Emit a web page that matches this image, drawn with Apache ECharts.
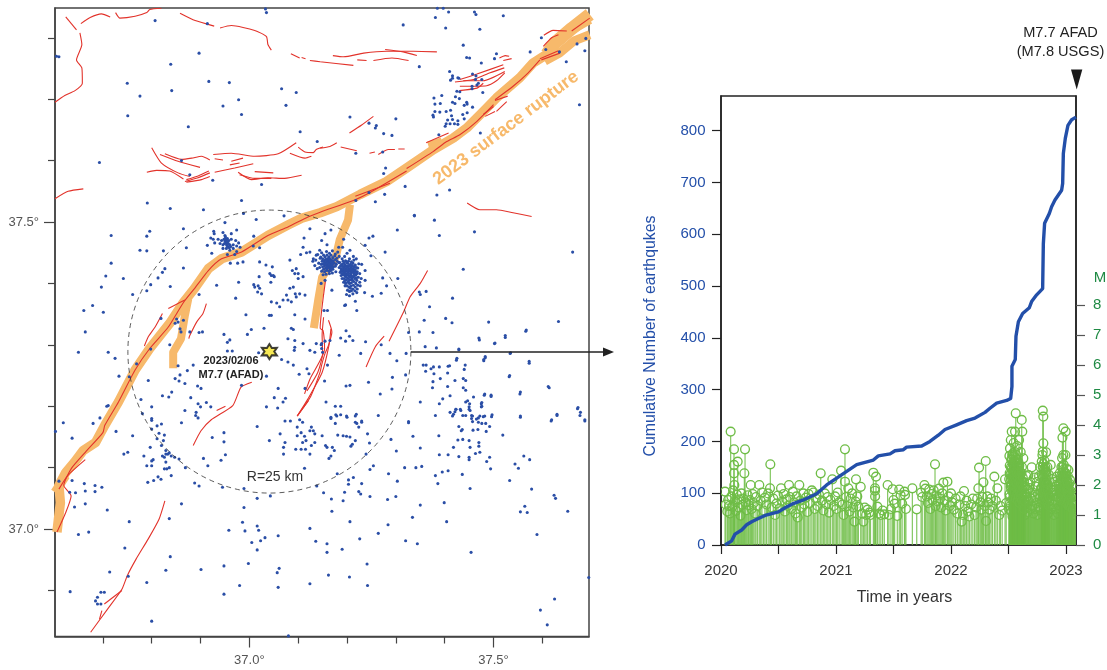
<!DOCTYPE html>
<html><head><meta charset="utf-8">
<style>html,body{margin:0;padding:0;background:#fff}#c{width:1107px;height:670px}</style>
<script src="https://cdn.jsdelivr.net/npm/echarts@6/dist/echarts.min.js"></script>
</head><body><div id="c"></div>
<script>
const epicenter=[37.041,37.289];
const lonTicks=[36.7,36.8,36.9,37.1,37.2,37.3,37.4,37.6];
const latTicks=[36.9,37.1,37.2,37.3,37.4,37.6,37.7,37.8];
const lonLabels=[37.0,37.5];
const latLabels=[37.0,37.5];
const yearTicks=[2020,2020.5,2021,2021.5,2022,2022.5,2023];
const yearLabels=[2020,2021,2022,2023];
const countTicks=[0,100,200,300,400,500,600,700,800];
const magTicks=[0,1,2,3,4,5,6,7,8];

const ruptureMain=[[37.697,37.830],[37.653,37.810],[37.626,37.792],[37.609,37.773],[37.581,37.759],[37.554,37.735],[37.506,37.702],[37.479,37.680],[37.445,37.653],[37.418,37.637],[37.377,37.618],[37.322,37.588],[37.281,37.566],[37.227,37.545],[37.179,37.525],[37.145,37.515],[37.107,37.506],[37.079,37.495],[37.038,37.478],[36.984,37.451],[36.943,37.440],[36.916,37.424],[36.888,37.392],[36.865,37.369],[36.837,37.335],[36.796,37.294],[36.766,37.259],[36.732,37.207],[36.704,37.169],[36.685,37.141],[36.660,37.128],[36.642,37.109],[36.624,37.092],[36.610,37.071],[36.613,37.043],[36.606,36.995]];
const ruptureNorthEast=[[37.697,37.838],[37.660,37.815],[37.626,37.792],[37.609,37.773]];
const ruptureNorthEast2=[[37.697,37.805],[37.665,37.795],[37.635,37.775],[37.605,37.762]];
const ruptureWestEnd=[[36.624,37.087],[36.602,37.060]];
const ruptureSouthBranch=[[36.875,37.375],[36.868,37.348],[36.860,37.310],[36.844,37.288],[36.844,37.262]];
const ruptureNorthBranch=[[37.206,37.528],[37.202,37.503],[37.185,37.471],[37.177,37.443],[37.149,37.410],[37.141,37.373],[37.132,37.327]];
const ruptureStub=[[37.367,37.623],[37.395,37.630]];

const faults=[
[[36.624,37.834],[36.646,37.813]],
[[36.653,37.808],[36.657,37.789],[36.646,37.764],[36.657,37.751],[36.658,37.726],[36.643,37.714],[36.622,37.706],[36.602,37.695]],
[[36.655,37.823],[36.674,37.833],[36.697,37.839],[36.715,37.834]],
[[36.726,37.841],[36.735,37.832],[36.766,37.835],[36.790,37.841],[36.796,37.846],[36.820,37.848]],
[[36.858,37.840],[36.889,37.828],[36.928,37.819]],
[[36.940,37.816],[36.963,37.820],[37.011,37.812],[37.035,37.802],[37.038,37.789],[37.045,37.780]],
[[37.085,37.774],[37.103,37.767]],[[37.107,37.768],[37.115,37.766]],
[[37.124,37.763],[37.145,37.761],[37.213,37.755]],
[[37.171,37.771],[37.193,37.769],[37.234,37.775],[37.281,37.778],[37.336,37.778],[37.384,37.777]],
[[37.278,37.781],[37.315,37.777],[37.343,37.771]],
[[37.254,37.763],[37.292,37.767],[37.326,37.763]],
[[37.221,37.764],[37.240,37.763]],
[[37.431,37.732],[37.466,37.741],[37.520,37.756]],
[[37.421,37.728],[37.459,37.732],[37.493,37.743],[37.522,37.751]],
[[37.438,37.730],[37.479,37.730],[37.523,37.745]],
[[37.431,37.721],[37.486,37.722],[37.506,37.730],[37.523,37.743]],
[[37.430,37.714],[37.466,37.718],[37.479,37.726]],
[[37.512,37.767],[37.524,37.771],[37.532,37.770]],
[[37.520,37.763],[37.537,37.766]],
[[37.503,37.698],[37.529,37.705]],
[[37.506,37.680],[37.527,37.696]],
[[37.479,37.675],[37.500,37.688]],
[[37.483,37.672],[37.503,37.680]],
[[37.603,37.804],[37.622,37.812],[37.650,37.811]],
[[37.602,37.786],[37.619,37.800],[37.633,37.805]],
[[37.595,37.766],[37.633,37.779]],
[[37.598,37.764],[37.636,37.775]],
[[37.697,37.832],[37.660,37.811]],
[[37.595,37.764],[37.571,37.743],[37.540,37.721],[37.503,37.699]],
[[37.500,37.691],[37.466,37.664],[37.431,37.642],[37.404,37.631],[37.377,37.615],[37.322,37.587]],
[[37.322,37.583],[37.247,37.548],[37.213,37.535],[37.145,37.516],[37.120,37.508],[37.079,37.492],[37.038,37.478],[36.984,37.451],[36.943,37.440],[36.916,37.421],[36.888,37.392],[36.865,37.369],[36.834,37.329],[36.796,37.294],[36.766,37.259],[36.732,37.207],[36.704,37.169],[36.700,37.157],[36.664,37.125],[36.635,37.098],[36.620,37.071],[36.635,37.054],[36.624,37.027],[36.606,36.995]],
[[37.288,37.563],[37.217,37.542]],
[[36.664,37.113],[36.628,37.087],[36.610,37.065]],
[[36.834,37.359],[36.848,37.365],[36.868,37.373]],
[[36.822,37.351],[36.807,37.329],[36.793,37.313],[36.785,37.298]],
[[36.912,37.367],[36.905,37.351],[36.892,37.337],[36.878,37.315],[36.876,37.310]],
[[37.005,37.239],[36.983,37.231],[36.966,37.201],[36.922,37.178],[36.901,37.160],[36.885,37.136]],
[[36.933,37.193],[36.951,37.200]],
[[37.156,37.405],[37.145,37.327],[37.151,37.323],[37.154,37.293],[37.124,37.244],[37.113,37.220]],
[[37.167,37.326],[37.163,37.299],[37.149,37.255],[37.120,37.212],[37.098,37.184]],
[[37.152,37.345],[37.149,37.316],[37.150,37.286],[37.140,37.255],[37.118,37.225]],
[[37.162,37.340],[37.169,37.321],[37.162,37.299],[37.155,37.286],[37.148,37.267],[37.145,37.256],[37.125,37.215],[37.098,37.184]],
[[37.121,37.209],[37.098,37.184]],
[[37.365,37.421],[37.350,37.400],[37.329,37.378],[37.316,37.354],[37.286,37.306]],
[[37.276,37.314],[37.258,37.297],[37.239,37.264]],
[[36.827,37.046],[36.815,37.016],[36.793,36.984],[36.768,36.951],[36.750,36.924],[36.739,36.902],[36.710,36.870],[36.675,36.832]],
[[36.739,36.900],[36.703,36.878]],
[[36.698,36.867],[36.693,36.853]],
[[36.602,37.538],[36.629,37.550],[36.660,37.554]],
[[36.800,37.621],[36.820,37.596],[36.854,37.580],[36.878,37.574]],
[[36.817,37.610],[36.854,37.599],[36.899,37.589]],
[[36.827,37.611],[36.861,37.602],[36.882,37.604],[36.902,37.607],[36.919,37.601]],
[[36.790,37.581],[36.810,37.584],[36.837,37.583],[36.865,37.570]],
[[36.868,37.566],[36.895,37.572],[36.919,37.580]],
[[36.871,37.569],[36.895,37.575],[36.917,37.583]],
[[36.871,37.565],[36.902,37.569],[36.919,37.574]],
[[36.926,37.610],[36.963,37.612],[37.011,37.607],[37.059,37.611],[37.096,37.629]],
[[36.929,37.603],[36.946,37.601]],
[[36.963,37.599],[36.987,37.604]],
[[36.960,37.593],[36.980,37.596]],
[[36.929,37.581],[36.970,37.588],[37.008,37.595]],
[[36.977,37.581],[37.004,37.569],[37.038,37.572],[37.072,37.571],[37.107,37.576]],
[[36.980,37.577],[37.011,37.571],[37.045,37.571]],
[[37.011,37.582],[37.049,37.580]],
[[37.083,37.612],[37.114,37.604],[37.127,37.607]],
[[37.100,37.622],[37.114,37.614],[37.131,37.613],[37.137,37.618],[37.151,37.622]],
[[37.205,37.645],[37.230,37.658],[37.254,37.672]],
[[37.145,37.620],[37.165,37.623],[37.179,37.629]],
[[37.187,37.622],[37.220,37.616]],
[[37.246,37.612],[37.257,37.614]],
[[37.264,37.610],[37.285,37.618],[37.298,37.618]],
[[37.305,37.619],[37.318,37.619]],
[[37.362,37.629],[37.408,37.645]],
[[37.446,37.531],[37.472,37.520],[37.506,37.520],[37.540,37.515],[37.578,37.509]]
];

const quakesNorth=[[36.605,37.770],[36.610,37.769],[36.807,37.828],[37.033,37.847],[37.035,37.841],[36.914,37.823],[36.897,37.775],[36.839,37.757],[36.750,37.726],[36.776,37.705],[36.841,37.714],[36.917,37.729],[36.959,37.727],[36.978,37.699],[36.946,37.689],[36.984,37.675],[36.751,37.673],[36.875,37.655],[37.066,37.717],[37.096,37.711],[37.075,37.690],[37.104,37.647],[37.139,37.631],[36.693,37.597],[36.861,37.600],[36.878,37.577],[36.925,37.568],[37.025,37.561],[36.791,37.531],[36.838,37.522],[36.906,37.520],[36.984,37.535],[36.988,37.514],[37.071,37.510],
[37.385,37.848],[37.397,37.848],[37.408,37.842],[37.461,37.842],[37.464,37.838],[37.481,37.849],[37.520,37.836],[37.381,37.833],[37.315,37.821],[37.402,37.816],[37.472,37.814],[37.438,37.788],[37.506,37.774],[37.502,37.766],[37.445,37.768],[37.451,37.767],[37.475,37.759],[37.348,37.753],[37.575,37.777],[37.598,37.800],[37.607,37.781],[37.635,37.777],[37.649,37.761],[37.671,37.790],[37.689,37.799],[37.687,37.779],[37.676,37.691],
[37.410,37.745],[37.416,37.738],[37.416,37.734],[37.412,37.731],[37.427,37.735],[37.429,37.734],[37.457,37.741],[37.464,37.738],[37.463,37.732],[37.476,37.732],[37.469,37.726],[37.466,37.723],[37.456,37.721],[37.456,37.717],[37.478,37.711],[37.425,37.713],[37.431,37.712],[37.378,37.702],[37.394,37.706],[37.380,37.692],[37.391,37.693],[37.422,37.704],[37.430,37.701],[37.416,37.695],[37.421,37.693],[37.445,37.695],[37.440,37.690],[37.446,37.692],[37.457,37.687],[37.412,37.682],[37.403,37.680],[37.390,37.679],[37.380,37.680],[37.376,37.674],[37.377,37.671],[37.414,37.673],[37.437,37.675],[37.446,37.678],[37.406,37.666],[37.416,37.667],[37.427,37.665],[37.440,37.668],[37.403,37.660],[37.401,37.656],[37.411,37.660],[37.420,37.660],[37.427,37.659],[37.388,37.642],[37.473,37.645],
[37.206,37.671],[37.245,37.661],[37.260,37.657],[37.258,37.653],[37.300,37.668],[37.275,37.644],[37.292,37.641],[37.218,37.612],[37.273,37.614],[37.279,37.588],[37.275,37.579],[37.319,37.558],[37.384,37.544],[37.410,37.552],[37.245,37.548],[37.277,37.545],[37.218,37.535],[37.258,37.533],[37.338,37.511]];

const quakesWest=[[36.717,37.478],[36.796,37.485],[36.790,37.477],[36.865,37.489],[36.776,37.454],[36.790,37.453],[36.824,37.453],[36.871,37.458],[36.717,37.433],[36.865,37.425],[36.706,37.412],[36.742,37.408],[36.697,37.394],[36.813,37.409],[36.822,37.418],[36.827,37.424],[36.798,37.398],[36.838,37.395],[36.790,37.388],[36.761,37.382],[36.661,37.356],[36.679,37.364],[36.701,37.353],[36.664,37.321],[36.650,37.288],[36.711,37.288],[36.725,37.278],[36.733,37.249],[36.793,37.242],[36.798,37.293],[36.837,37.300],[36.769,37.269],[36.754,37.248],
[36.851,37.342],[36.848,37.335],[36.854,37.337],[36.865,37.340],[36.858,37.326],[36.860,37.321],[36.819,37.343],[36.878,37.321],
[36.854,37.266],[36.873,37.258],[36.885,37.267],[36.858,37.251],[36.848,37.245],[36.856,37.241],[36.868,37.237],[36.894,37.233],[36.901,37.229],[36.841,37.223],[36.822,37.217],[36.835,37.215],[36.880,37.214],[36.778,37.211],[36.895,37.204],[36.900,37.199],[36.912,37.206],[36.921,37.199],[36.868,37.193],[36.890,37.185],[36.895,37.181],[36.984,37.234],[37.035,37.249],[37.059,37.229],[37.051,37.214],[37.074,37.213],[37.069,37.207],[37.058,37.197],[37.035,37.199],[37.102,37.252],[37.118,37.261],[37.122,37.253],[37.114,37.229],[36.711,37.201],[36.708,37.200],[36.800,37.199],[36.694,37.181],[36.680,37.172],[36.619,37.173],[36.781,37.188],[36.800,37.177]];

const quakesJunction=[[36.927,37.485],[36.928,37.481],[36.946,37.483],[36.950,37.478],[36.963,37.481],[36.974,37.487],[36.921,37.474],[36.926,37.472],[36.936,37.472],[36.943,37.470],[36.951,37.476],[36.955,37.473],[36.958,37.470],[36.963,37.472],[36.972,37.470],[36.978,37.466],[36.929,37.466],[36.940,37.465],[36.946,37.463],[36.953,37.465],[36.960,37.463],[36.967,37.463],[36.974,37.461],[36.981,37.459],[36.914,37.462],[36.923,37.449],[36.946,37.457],[36.953,37.457],[36.960,37.454],[36.967,37.457],[36.974,37.452],[36.955,37.447],[36.970,37.447],[36.987,37.435],[36.976,37.433],[36.961,37.433],[36.951,37.473],[36.953,37.471],[36.950,37.469],[36.955,37.468],[36.952,37.466],[36.957,37.465],[36.949,37.465],[36.954,37.462],[36.948,37.472],[36.956,37.460],[36.959,37.458],[36.962,37.460]];

const quakesCentre=[[37.014,37.504],[36.950,37.499],[37.009,37.477],[37.021,37.458],[37.008,37.461],[37.021,37.435],[37.034,37.430],[37.047,37.427],[37.042,37.416],[37.045,37.413],[37.049,37.413],[37.051,37.411],[37.044,37.402],[37.020,37.411],[36.978,37.402],[36.933,37.397],[37.009,37.398],[37.018,37.396],[37.011,37.394],[37.021,37.392],[37.017,37.386],[37.025,37.383],[36.972,37.376],[36.897,37.382],[37.045,37.370],[37.056,37.368],[37.062,37.362],[37.076,37.381],[37.069,37.373],[37.083,37.392],[37.090,37.394],[37.094,37.383],[37.103,37.383],[37.114,37.381],[37.079,37.373],[37.086,37.370],[37.096,37.378],[37.045,37.348],[37.041,37.348],[36.993,37.349],[37.030,37.327],[37.004,37.325],[36.996,37.317],[36.948,37.317],[36.897,37.320],[36.904,37.321],[36.960,37.308],[36.955,37.304],[36.955,37.290],[36.965,37.290],[37.019,37.287],[37.093,37.349],[37.114,37.342],[37.086,37.327],[37.090,37.325],[37.079,37.310],[37.093,37.307],[37.093,37.296],[37.092,37.291],[37.110,37.302],[37.124,37.291],[37.137,37.302],[37.148,37.302],[37.134,37.288],[37.148,37.294],[37.066,37.276],[37.079,37.272],[37.090,37.267],[37.083,37.438],[37.105,37.447],[37.117,37.450],[37.124,37.451],[37.088,37.421],[37.096,37.424],[37.100,37.416],[37.110,37.411],[37.093,37.416],[37.100,37.408],[37.131,37.440],[37.137,37.446],[37.144,37.454],[37.110,37.459],[37.112,37.474],[37.124,37.489]];

const quakesCluster1=[[37.148,37.450],[37.152,37.446],[37.158,37.452],[37.164,37.449],[37.170,37.453],[37.176,37.448],[37.181,37.451],[37.146,37.443],[37.150,37.440],[37.155,37.443],[37.159,37.446],[37.163,37.443],[37.167,37.446],[37.171,37.442],[37.175,37.445],[37.179,37.441],[37.184,37.444],[37.149,37.436],[37.153,37.437],[37.156,37.439],[37.160,37.440],[37.162,37.437],[37.165,37.440],[37.168,37.438],[37.172,37.437],[37.176,37.439],[37.180,37.436],[37.147,37.431],[37.151,37.432],[37.154,37.434],[37.158,37.435],[37.161,37.432],[37.164,37.434],[37.167,37.432],[37.170,37.434],[37.174,37.433],[37.178,37.431],[37.183,37.434],[37.150,37.427],[37.154,37.429],[37.157,37.430],[37.160,37.428],[37.163,37.430],[37.166,37.428],[37.169,37.429],[37.172,37.427],[37.176,37.428],[37.152,37.423],[37.156,37.425],[37.159,37.424],[37.162,37.426],[37.165,37.424],[37.168,37.425],[37.171,37.423],[37.148,37.420],[37.154,37.419],[37.158,37.421],[37.163,37.420],[37.167,37.421],[37.151,37.414],[37.157,37.415],[37.164,37.416],[37.170,37.417],[37.177,37.419],[37.145,37.441],[37.142,37.433],[37.139,37.424],[37.136,37.438],[37.134,37.429],[37.144,37.426],[37.130,37.436],[37.140,37.447],[37.167,37.487],[37.155,37.481],[37.148,37.470],[37.159,37.463],[37.193,37.472],[37.183,37.459],[37.191,37.459],[37.155,37.405],[37.147,37.400],[37.169,37.389],[37.160,37.356],[37.153,37.356],[37.162,37.435],[37.160,37.437],[37.165,37.437],[37.163,37.441],[37.158,37.438],[37.156,37.431],[37.160,37.433],[37.164,37.431],[37.168,37.435],[37.170,37.431]];

const quakesCluster2=[[37.206,37.454],[37.200,37.449],[37.195,37.444],[37.190,37.440],[37.197,37.437],[37.205,37.440],[37.213,37.444],[37.219,37.440],[37.224,37.432],[37.185,37.434],[37.190,37.431],[37.196,37.430],[37.201,37.433],[37.207,37.431],[37.212,37.433],[37.217,37.430],[37.222,37.425],[37.230,37.431],[37.237,37.421],[37.237,37.405],[37.184,37.426],[37.188,37.424],[37.193,37.426],[37.197,37.424],[37.201,37.426],[37.205,37.424],[37.209,37.426],[37.213,37.424],[37.217,37.422],[37.221,37.419],[37.226,37.416],[37.186,37.418],[37.190,37.420],[37.194,37.418],[37.198,37.420],[37.202,37.418],[37.206,37.420],[37.210,37.418],[37.214,37.416],[37.218,37.414],[37.223,37.410],[37.229,37.408],[37.188,37.413],[37.192,37.414],[37.196,37.412],[37.200,37.414],[37.204,37.412],[37.208,37.414],[37.212,37.411],[37.216,37.408],[37.220,37.405],[37.226,37.402],[37.190,37.408],[37.194,37.408],[37.198,37.406],[37.202,37.408],[37.206,37.406],[37.210,37.407],[37.214,37.403],[37.218,37.400],[37.222,37.397],[37.227,37.396],[37.193,37.402],[37.197,37.400],[37.201,37.402],[37.205,37.400],[37.209,37.401],[37.213,37.397],[37.217,37.394],[37.221,37.391],[37.196,37.396],[37.200,37.396],[37.204,37.394],[37.208,37.396],[37.212,37.391],[37.216,37.388],[37.220,37.385],[37.201,37.389],[37.205,37.387],[37.209,37.388],[37.205,37.380],[37.199,37.382],[37.212,37.383],[37.215,37.412],[37.207,37.416],[37.199,37.410],[37.203,37.404],[37.197,37.416],[37.211,37.405],[37.193,37.421],[37.204,37.422],[37.210,37.422],[37.215,37.420],[37.219,37.409],[37.195,37.404],[37.207,37.392],
[37.192,37.436],[37.194,37.433],[37.199,37.435],[37.203,37.436],[37.209,37.435],[37.214,37.438],[37.187,37.429],[37.191,37.428],[37.195,37.428],[37.199,37.428],[37.203,37.429],[37.207,37.428],[37.211,37.429],[37.215,37.427],[37.219,37.426],[37.188,37.421],[37.192,37.423],[37.196,37.422],[37.200,37.422],[37.208,37.423],[37.212,37.421],[37.216,37.418],[37.220,37.416],[37.190,37.416],[37.194,37.415],[37.202,37.415],[37.206,37.410],[37.210,37.411]];

const quakesEast=[[37.338,37.510],[37.379,37.503],[37.303,37.487],[37.389,37.478],[37.461,37.484],[37.245,37.474],[37.253,37.477],[37.237,37.462],[37.278,37.451],[37.662,37.451],[37.249,37.445],[37.438,37.423],[37.273,37.409],[37.304,37.408],[37.281,37.396],[37.348,37.386],[37.350,37.382],[37.362,37.387],[37.270,37.384],[37.252,37.379],[37.236,37.385],[37.416,37.376],[37.369,37.362],[37.217,37.371],[37.197,37.365],[37.195,37.364],[37.220,37.356],[37.402,37.343],[37.358,37.340],[37.415,37.336],[37.490,37.337],[37.633,37.338],[37.348,37.321],[37.376,37.320],[37.326,37.320],[37.566,37.322],[37.524,37.312],[37.471,37.308],[37.502,37.302],[37.360,37.297],[37.383,37.295],[37.429,37.292],[37.198,37.323],[37.205,37.314],[37.187,37.311],[37.212,37.307],[37.197,37.306],[37.238,37.305],[37.270,37.300],[37.288,37.286],[37.321,37.286],[37.228,37.286],[37.184,37.283],[37.302,37.274],[37.160,37.267],[37.165,37.307],[37.155,37.306],[37.147,37.300],[37.150,37.288],
[37.534,37.286],[37.424,37.275],[37.483,37.279],[37.480,37.274],[37.573,37.270],[37.442,37.267],[37.356,37.267],[37.362,37.267],[37.377,37.264],[37.372,37.261],[37.389,37.264],[37.407,37.265],[37.410,37.266],[37.361,37.257],[37.440,37.260],[37.378,37.253],[37.406,37.254],[37.320,37.251],[37.293,37.247],[37.391,37.245],[37.438,37.245],[37.443,37.242],[37.421,37.242],[37.376,37.240],[37.532,37.248],[37.244,37.239],[37.154,37.241],[37.198,37.233],[37.206,37.234],[37.292,37.228],[37.375,37.230],[37.406,37.232],[37.438,37.230],[37.443,37.226],[37.614,37.230],[37.268,37.220],[37.554,37.220],[37.411,37.217],[37.481,37.218],[37.495,37.216],[37.459,37.215],[37.396,37.212],[37.350,37.207],[37.157,37.207],[37.389,37.204],[37.443,37.207],[37.451,37.204],[37.475,37.204],[37.475,37.199],[37.176,37.200],[37.187,37.200],[37.450,37.199],[37.452,37.193],[37.433,37.193],[37.423,37.195],[37.421,37.191],[37.411,37.190],[37.437,37.185],[37.443,37.185],[37.416,37.184],[37.381,37.185],[37.455,37.185],[37.455,37.180],[37.457,37.175],[37.472,37.184],[37.469,37.181],[37.469,37.174],[37.496,37.183],[37.479,37.183],[37.484,37.172],[37.555,37.182],[37.630,37.185],[37.672,37.196],[37.677,37.185],[37.687,37.176],[37.618,37.176],[37.264,37.185],[37.217,37.184],[37.200,37.182],[37.179,37.184],[37.167,37.180],[37.220,37.172],[37.230,37.174],[37.176,37.172],[37.326,37.173]];

const quakesSouth=[[36.603,37.159],[36.637,37.148],[36.743,37.122],[36.751,37.125],[36.727,37.159],[36.761,37.152],[36.610,37.078],[36.637,37.079],[36.662,37.074],[36.684,37.071],[36.684,37.061],[36.664,37.062],[36.698,37.068],[36.632,37.060],[36.644,37.059],[36.664,37.041],[36.642,37.036],[36.709,37.031],[36.754,37.012],[36.650,36.991],[36.671,36.995],[36.745,36.969],[36.836,37.017],[36.861,37.041],[36.838,36.955],[36.714,36.930],[36.829,36.933],[36.901,36.934],[36.948,36.940],[36.998,36.944],[36.633,36.898],[36.790,36.913],[36.752,36.923],[36.948,36.894],[36.980,36.908],[36.800,36.850],[36.689,36.889],[36.685,36.883],[36.689,36.878],[36.696,36.878],[36.696,36.897],[36.703,36.897],
[36.800,37.180],[36.811,37.168],[36.820,37.171],[36.800,37.163],[36.815,37.156],[36.797,37.133],[36.811,37.147],[36.826,37.153],[36.824,37.144],[36.820,37.136],[36.829,37.128],[36.840,37.119],[36.847,37.117],[36.829,37.122],[36.826,37.117],[36.822,37.119],[36.833,37.122],[36.836,37.124],[36.856,37.114],[36.803,37.113],[36.790,37.103],[36.800,37.111],[36.800,37.103],[36.829,37.109],[36.836,37.100],[36.831,37.098],[36.826,37.098],[36.840,37.087],[36.804,37.079],[36.813,37.085],[36.792,37.076],[36.784,37.119],[36.819,37.081],[36.869,37.100],[36.888,37.075],[36.897,37.070],[36.906,37.115],[36.915,37.103],[36.942,37.112],[36.951,37.121],[36.924,37.149],[36.948,37.157],[36.948,37.142],[36.891,37.190],[36.861,37.173],
[37.073,37.176],[37.084,37.176],[37.103,37.178],[37.109,37.174],[37.098,37.166],[37.106,37.157],[37.098,37.152],[37.113,37.151],[37.127,37.166],[37.131,37.160],[37.124,37.160],[37.134,37.155],[37.149,37.152],[37.109,37.141],[37.106,37.130],[37.095,37.130],[37.073,37.141],[37.070,37.133],[37.070,37.122],[37.063,37.155],[37.041,37.144],[37.016,37.167],[37.124,37.122],[37.156,37.136],[37.170,37.133],[37.159,37.133],[37.174,37.128],[37.167,37.119],[37.163,37.115],[37.181,37.153],[37.192,37.152],[37.199,37.151],[37.206,37.150],[37.211,37.138],[37.208,37.135],[37.217,37.144],[37.224,37.166],[37.217,37.174],[37.230,37.176],[37.219,37.187],[37.199,37.184],[37.187,37.186],[37.177,37.186],[37.167,37.182],[37.242,37.155],[37.246,37.140],[37.239,37.122],[37.254,37.103],[37.247,37.097],[37.203,37.073],[37.213,37.084],[37.230,37.074],[37.203,37.080],[37.180,37.090],[37.113,37.099],[37.116,37.144],[37.134,37.141],[37.127,37.136],[37.115,37.130],
[37.224,37.061],[37.228,37.057],[37.247,37.053],[37.195,37.060],[37.192,37.046],[37.168,37.049],[37.152,37.059],[37.138,37.070],[37.283,37.048],[37.300,37.053],[37.350,37.039],[37.206,37.012],[37.169,37.029],[37.124,37.001],[37.284,37.007],[37.264,36.993],[37.226,36.984],[37.334,37.019],[37.320,36.981],[37.344,36.976],[37.190,36.967],[37.159,36.976],[37.159,36.962],[37.136,36.980],[37.241,36.943],[37.061,36.936],[37.057,36.929],[37.162,36.925],[37.205,36.922],[37.242,36.908],[37.124,36.911],[37.059,36.905],[37.032,36.986],[37.023,36.981],[37.019,36.998],[37.016,37.005],[36.991,36.997],[36.986,37.011],[36.989,37.035],[36.958,36.998],[37.005,36.978],[37.016,36.966],[37.059,36.989],[37.080,36.826],[37.454,36.962],[37.404,37.012],[37.399,37.043],[37.589,36.991],[37.555,37.028],[37.569,37.027],[37.564,37.037],[37.652,37.029],[37.578,37.065],[37.624,37.055],[37.627,37.050],[37.695,36.921],[37.625,36.886],[37.596,36.868],[37.610,36.844],[37.016,37.050],[37.043,37.054],[36.989,37.066],[36.945,37.068],
[37.326,37.175],[37.335,37.151],[37.350,37.132],[37.301,37.127],[37.290,37.146],[37.388,37.152],[37.389,37.121],[37.407,37.121],[37.429,37.118],[37.450,37.117],[37.450,37.113],[37.463,37.123],[37.472,37.125],[37.492,37.117],[37.486,37.110],[37.494,37.098],[37.418,37.133],[37.427,37.145],[37.437,37.146],[37.450,37.144],[37.452,37.133],[37.470,37.141],[37.470,37.135],[37.429,37.167],[37.434,37.160],[37.436,37.162],[37.458,37.161],[37.468,37.162],[37.476,37.172],[37.485,37.159],[37.492,37.167],[37.519,37.153],[37.544,37.106],[37.551,37.099],[37.562,37.119],[37.574,37.113],[37.533,37.079],[37.436,37.089],[37.452,37.066],[37.407,37.095],[37.395,37.093],[37.381,37.087],[37.386,37.074],[37.318,37.100],[37.341,37.100],[37.353,37.102],[37.285,37.090],[37.303,37.078],
[37.447,37.209],[37.476,37.206],[37.476,37.200],[37.423,37.195],[37.432,37.195],[37.450,37.195],[37.457,37.184],[37.482,37.184],[37.497,37.186],[37.482,37.220],[37.495,37.218],[37.418,37.187],[37.465,37.179],[37.673,37.198],[37.678,37.190],[37.687,37.178],[37.619,37.178],[37.630,37.187],[37.555,37.184],[37.555,37.223],[37.612,37.232],[37.573,37.273],[37.533,37.250],[37.535,37.287],[37.483,37.281],[37.480,37.276],[37.503,37.303],[37.524,37.315],[37.470,37.311],[37.567,37.324],[37.429,37.293],[37.425,37.278]];

const cumulativeCount=[[2020.035,0],[2020.093,8],[2020.122,21],[2020.18,29],[2020.223,39],[2020.267,45],[2020.325,51],[2020.383,57],[2020.499,64],[2020.557,72],[2020.629,80],[2020.716,87],[2020.832,99],[2020.919,116],[2021.006,129],[2021.093,142],[2021.18,155],[2021.325,164],[2021.368,172],[2021.47,176],[2021.513,182],[2021.586,184],[2021.614,189],[2021.745,191],[2021.817,200],[2021.89,212],[2021.948,223],[2022.049,232],[2022.136,240],[2022.209,245],[2022.296,256],[2022.339,264],[2022.397,274],[2022.484,279],[2022.519,283],[2022.53,306],[2022.53,345],[2022.559,358],[2022.565,403],[2022.586,431],[2022.623,447],[2022.681,458],[2022.701,470],[2022.745,483],[2022.797,495],[2022.803,582],[2022.814,621],[2022.855,640],[2022.875,653],[2022.904,666],[2022.962,685],[2022.971,698],[2022.977,756],[2022.994,785],[2023.017,810],[2023.049,821],[2023.087,826]];

const magnitudes2020=[[2020.035,1.78],[2020.042,1.35],[2020.055,1.12],[2020.062,1.5],[2020.07,1.3],[2020.078,1.05],[2020.084,3.78],[2020.09,1.62],[2020.098,1.28],[2020.105,1.82],[2020.113,3.19],[2020.113,2.67],[2020.113,2.39],[2020.116,2.0],[2020.122,1.45],[2020.13,1.14],[2020.138,1.68],[2020.145,2.78],[2020.152,1.25],[2020.16,1.52],[2020.17,0.98],[2020.178,1.72],[2020.186,1.34],[2020.195,1.55],[2020.203,2.39],[2020.209,3.19],[2020.216,1.42],[2020.224,1.16],[2020.233,1.66],[2020.24,1.33],[2020.25,1.5],[2020.258,2.0],[2020.266,1.2],[2020.275,1.7],[2020.285,1.4],[2020.296,1.05],[2020.305,1.6],[2020.318,1.3],[2020.333,2.0],[2020.345,1.48],[2020.356,1.75],[2020.37,1.15],[2020.382,1.58],[2020.395,1.35],[2020.41,1.72],[2020.426,1.89],[2020.429,2.69],[2020.44,1.25],[2020.455,1.55],[2020.47,1.0],[2020.482,1.38],[2020.495,1.65],[2020.51,1.22],[2020.522,1.89],[2020.532,1.45],[2020.545,1.7],[2020.556,1.12],[2020.57,1.52],[2020.58,1.3],[2020.591,2.0],[2020.6,1.6],[2020.612,1.2],[2020.625,1.78],[2020.636,1.42],[2020.648,1.05],[2020.657,1.62],[2020.667,0.92],[2020.681,2.0],[2020.69,1.48],[2020.702,1.25],[2020.716,1.72],[2020.725,1.35],[2020.738,1.58],[2020.75,1.1],[2020.762,1.7],[2020.775,1.4],[2020.79,1.82],[2020.803,1.75],[2020.815,1.2],[2020.826,1.55],[2020.84,1.3],[2020.852,1.68],[2020.867,2.39],[2020.878,1.48],[2020.89,1.15],[2020.902,1.72],[2020.915,1.36],[2020.928,1.6],[2020.94,1.08],[2020.952,1.5],[2020.968,2.19],[2020.98,1.3],[2020.992,1.62]];
const magnitudes2021=[[2021.004,1.2],[2021.015,1.75],[2021.028,1.42],[2021.044,2.48],[2021.056,1.35],[2021.066,1.0],[2021.078,3.19],[2021.078,2.11],[2021.088,1.6],[2021.097,1.3],[2021.107,1.89],[2021.118,1.12],[2021.128,1.55],[2021.14,1.72],[2021.15,1.25],[2021.16,0.78],[2021.17,1.45],[2021.174,2.19],[2021.185,1.62],[2021.195,1.28],[2021.215,1.94],[2021.226,1.05],[2021.238,0.78],[2021.25,1.25],[2021.262,1.0],[2021.275,1.18],[2021.29,1.08],[2021.3,1.0],[2021.325,2.41],[2021.339,1.89],[2021.339,1.81],[2021.34,1.62],[2021.348,2.28],[2021.36,1.28],[2021.375,1.05],[2021.39,1.0],[2021.405,1.15],[2021.42,1.02],[2021.449,2.0],[2021.46,1.0],[2021.478,1.2],[2021.493,1.86],[2021.5,1.5],[2021.51,1.38],[2021.533,0.97],[2021.55,1.85],[2021.562,1.66],[2021.575,1.38],[2021.595,1.78],[2021.6,1.67],[2021.608,1.2],[2021.664,1.89],[2021.702,1.19],[2021.74,1.75],[2021.75,1.6],[2021.769,2.0],[2021.778,1.88],[2021.79,1.62],[2021.8,1.4],[2021.81,1.85],[2021.82,1.2],[2021.83,1.7],[2021.84,1.5],[2021.85,1.82],[2021.861,2.69],[2021.865,1.3],[2021.875,1.65],[2021.885,1.45],[2021.895,1.88],[2021.905,1.55],[2021.915,1.25],[2021.925,1.72],[2021.934,2.08],[2021.945,1.48],[2021.955,1.15],[2021.969,2.11],[2021.98,1.62],[2021.99,1.3]];
const magnitudes2022a=[[2022.0,1.72],[2022.01,1.42],[2022.025,1.18],[2022.04,1.55],[2022.055,1.05],[2022.07,1.35],[2022.082,1.62],[2022.093,0.78],[2022.105,1.0],[2022.113,1.8],[2022.122,1.3],[2022.135,1.48],[2022.148,1.12],[2022.16,0.95],[2022.175,1.35],[2022.19,1.55],[2022.205,1.0],[2022.218,1.25],[2022.228,1.55],[2022.238,1.89],[2022.244,2.58],[2022.255,1.42],[2022.265,1.18],[2022.275,1.6],[2022.282,2.09],[2022.295,1.3],[2022.302,2.8],[2022.305,0.8],[2022.315,1.62],[2022.325,1.42],[2022.335,1.18],[2022.348,1.55],[2022.36,1.3],[2022.377,2.28],[2022.39,1.48],[2022.403,1.89],[2022.42,1.0],[2022.43,1.3],[2022.445,1.15],[2022.47,2.19],[2022.48,1.4]];
const magnitudes2022b=[[2022.505,1.2],[2022.508,2.97],[2022.51,2.4],[2022.512,1.6],[2022.513,3.22],[2022.515,2.1],[2022.517,1.3],[2022.52,3.5],[2022.522,2.6],[2022.524,1.85],[2022.526,1.1],[2022.528,3.78],[2022.53,2.85],[2022.531,2.25],[2022.533,1.5],[2022.535,0.95],[2022.537,3.05],[2022.539,2.45],[2022.54,1.75],[2022.542,1.25],[2022.545,3.4],[2022.547,2.7],[2022.549,2.05],[2022.55,1.45],[2022.552,1.0],[2022.555,3.1],[2022.557,3.78],[2022.558,2.5],[2022.56,1.9],[2022.562,1.3],[2022.563,4.39],[2022.565,2.9],[2022.568,2.3],[2022.57,1.65],[2022.572,1.15],[2022.575,3.3],[2022.577,2.6],[2022.58,1.95],[2022.582,1.4],[2022.585,0.9],[2022.588,2.75],[2022.59,2.2],[2022.592,3.5],[2022.595,1.55],[2022.598,1.1],[2022.6,2.45],[2022.603,1.8],[2022.606,3.1],[2022.609,1.25],[2022.612,2.15],[2022.615,4.17],[2022.617,2.6],[2022.62,3.78],[2022.622,1.7],[2022.625,1.15],[2022.629,2.89],[2022.633,2.1],[2022.637,1.5],[2022.641,1.0],[2022.645,1.95],[2022.65,1.35],[2022.655,2.3],[2022.66,1.6],[2022.665,1.1],[2022.67,1.85],[2022.673,2.33],[2022.677,1.45],[2022.682,1.9],[2022.687,1.2],[2022.692,2.1],[2022.697,1.55],[2022.702,2.59],[2022.706,1.3],[2022.711,1.75],[2022.716,1.05],[2022.721,2.25],[2022.726,1.6],[2022.731,1.2],[2022.736,1.95],[2022.741,1.4],[2022.746,2.1],[2022.751,1.0],[2022.756,1.7],[2022.761,1.25],[2022.766,2.3],[2022.771,1.55],[2022.776,2.6],[2022.78,1.15],[2022.784,1.9],[2022.789,2.78],[2022.79,2.35],[2022.793,1.4],[2022.795,3.0],[2022.798,4.48],[2022.798,3.11],[2022.8,2.05],[2022.803,4.28],[2022.803,3.39],[2022.805,1.6],[2022.808,2.5],[2022.811,1.1],[2022.814,2.8],[2022.817,1.85],[2022.82,2.45],[2022.823,1.3],[2022.827,3.09],[2022.83,2.15],[2022.834,1.65],[2022.838,2.6],[2022.842,1.05],[2022.846,2.0],[2022.85,2.35],[2022.855,1.45],[2022.86,1.9],[2022.867,2.67],[2022.87,1.2],[2022.875,1.75],[2022.88,2.2],[2022.885,1.35],[2022.89,1.85],[2022.895,1.0],[2022.9,2.1],[2022.905,1.5],[2022.91,1.95],[2022.915,1.2],[2022.919,2.28],[2022.922,1.7],[2022.926,2.15],[2022.93,1.05],[2022.934,1.6],[2022.938,2.05],[2022.942,1.3],[2022.946,2.4],[2022.95,1.75],[2022.953,1.15],[2022.956,2.2],[2022.96,2.6],[2022.963,1.45],[2022.966,2.9],[2022.969,3.58],[2022.972,2.3],[2022.975,1.85],[2022.977,3.89],[2022.977,3.0],[2022.98,2.67],[2022.982,1.25],[2022.985,2.1],[2022.988,1.6],[2022.99,2.4],[2022.992,1.0],[2022.995,3.0],[2022.997,3.78],[2023.0,2.2],[2023.002,1.7],[2023.005,2.55],[2023.008,1.2],[2023.01,2.0],[2023.013,1.5],[2023.016,2.3],[2023.019,1.05],[2023.021,2.5],[2023.024,1.85],[2023.027,1.35],[2023.03,2.05],[2023.033,1.6],[2023.035,2.17],[2023.038,1.15],[2023.041,1.8],[2023.045,1.4],[2023.049,1.95],[2023.053,1.1],[2023.057,1.65],[2023.061,1.3],[2023.065,1.5],[2023.07,1.0],[2023.074,1.42],[2023.079,1.72],[2023.082,1.18]];
const magnitudesDense=[[2022.506,2.2],[2022.509,1.7],[2022.511,2.65],[2022.514,1.4],[2022.516,2.35],[2022.519,1.95],[2022.521,2.2],[2022.523,2.85],[2022.525,2.4],[2022.527,2.0],[2022.529,2.55],[2022.532,3.0],[2022.534,2.15],[2022.536,2.7],[2022.538,1.85],[2022.541,2.35],[2022.543,2.95],[2022.544,2.1],[2022.546,1.6],[2022.548,2.5],[2022.551,2.8],[2022.553,2.25],[2022.554,1.75],[2022.556,2.6],[2022.559,2.1],[2022.561,2.75],[2022.564,1.55],[2022.566,2.45],[2022.567,3.0],[2022.569,1.9],[2022.571,2.4],[2022.573,2.85],[2022.574,2.05],[2022.576,1.7],[2022.578,2.3],[2022.579,2.7],[2022.581,1.5],[2022.583,2.2],[2022.584,2.55],[2022.586,1.85],[2022.587,2.1],[2022.589,1.6],[2022.591,2.4],[2022.593,1.95],[2022.594,2.65],[2022.596,1.4],[2022.597,2.2],[2022.599,1.8],[2022.601,2.3],[2022.604,1.55],[2022.607,2.05],[2022.61,1.7],[2022.613,2.4],[2022.616,1.5],[2022.619,2.1],[2022.621,1.85],[2022.624,2.25],[2022.627,1.4],[2022.631,1.9],[2022.635,1.2],[2022.639,1.75],[2022.643,1.45],[2022.648,1.7],[2022.79,1.5],[2022.792,1.9],[2022.794,2.3],[2022.796,1.65],[2022.797,2.6],[2022.799,1.8],[2022.801,2.25],[2022.802,1.4],[2022.804,2.7],[2022.806,2.1],[2022.807,1.75],[2022.809,2.35],[2022.81,1.9],[2022.812,2.55],[2022.813,1.5],[2022.815,2.15],[2022.816,2.4],[2022.818,1.7],[2022.819,2.05],[2022.821,2.6],[2022.822,1.6],[2022.824,2.2],[2022.825,1.85],[2022.828,2.4],[2022.831,1.7],[2022.833,2.05],[2022.836,1.5],[2022.84,1.85],[2022.844,1.55],[2022.848,1.7],[2022.853,1.3],[2022.858,1.6],[2022.944,1.85],[2022.948,2.1],[2022.951,1.5],[2022.954,1.9],[2022.957,1.6],[2022.958,2.3],[2022.961,1.85],[2022.964,2.15],[2022.965,1.55],[2022.967,2.4],[2022.968,1.9],[2022.97,2.6],[2022.971,1.7],[2022.973,2.15],[2022.974,2.5],[2022.976,1.95],[2022.978,2.3],[2022.979,1.6],[2022.981,2.45],[2022.983,2.0],[2022.984,1.75],[2022.986,2.3],[2022.987,1.45],[2022.989,2.05],[2022.991,1.85],[2022.993,2.25],[2022.994,1.6],[2022.996,1.95],[2022.998,2.4],[2022.999,1.55],[2023.001,1.95],[2023.003,2.3],[2023.004,1.45],[2023.006,1.85],[2023.007,2.15],[2023.009,1.6],[2023.011,1.9],[2023.012,1.35],[2023.014,1.8],[2023.015,2.05],[2023.017,1.45],[2023.018,1.7],[2023.02,1.95],[2023.022,1.3],[2023.023,1.65],[2023.025,1.5],[2023.028,1.75],[2023.031,1.3],[2023.036,1.55],[2023.043,1.25],[2023.047,1.6],[2023.051,1.35],[2023.055,1.45],[2023.059,1.2]];

const quakes=[].concat(quakesNorth,quakesWest,quakesJunction,quakesCentre,quakesCluster1,quakesCluster2,quakesEast,quakesSouth);
const magnitudes=[].concat(magnitudes2020,magnitudes2021,magnitudes2022a,magnitudes2022b,magnitudesDense);

const orange='#f7b96b', red='#e2332b', blue='#2a4ea6', darkBlue='#234fa9', green='#1f8a44', stem='#6fbd47', ink='#333';
const sans='"Liberation Sans",Arial,sans-serif';
const starPath='path://M50 0 L64 26 L93 25 L78 50 L93 75 L64 74 L50 100 L36 74 L7 75 L22 50 L7 25 L36 26 Z';

function orangeLine(data,w){return {type:'line',xAxisIndex:0,yAxisIndex:0,data:data,symbol:'none',silent:true,z:2,lineStyle:{color:orange,width:w,cap:'butt',join:'round'},animation:false};}

const series=[
 orangeLine(ruptureMain,9.5),orangeLine(ruptureNorthEast,13),orangeLine(ruptureNorthEast2,9),orangeLine(ruptureWestEnd,9),
 orangeLine(ruptureSouthBranch,8),orangeLine(ruptureNorthBranch,8),orangeLine(ruptureStub,10)
];
faults.forEach(f=>series.push({type:'line',xAxisIndex:0,yAxisIndex:0,data:f,symbol:'none',smooth:0.2,silent:true,z:3,lineStyle:{color:red,width:1.1},animation:false}));
series.push({type:'scatter',xAxisIndex:0,yAxisIndex:0,data:quakes,symbol:'circle',symbolSize:3.1,silent:true,z:4,itemStyle:{color:blue,opacity:1},animation:false});
series.push({type:'scatter',xAxisIndex:0,yAxisIndex:0,data:[epicenter],symbol:'circle',symbolSize:283,silent:true,z:5,clip:false,
 itemStyle:{color:'rgba(0,0,0,0)',borderColor:'#333',borderWidth:1,borderType:[5,4]},animation:false});
series.push({type:'scatter',xAxisIndex:0,yAxisIndex:0,data:[epicenter],symbol:starPath,symbolSize:15,silent:true,z:6,
 itemStyle:{color:'#f5e32a',borderColor:'#111',borderWidth:2},animation:false});
series.push({type:'custom',xAxisIndex:1,yAxisIndex:2,data:magnitudes,silent:true,z:3,animation:false,clip:true,
 encode:{x:0,y:1},
 renderItem:function(p,api){
   const a=api.coord([api.value(0),0]),b=api.coord([api.value(0),api.value(1)]);
   return {type:'group',children:[
    {type:'line',shape:{x1:a[0],y1:a[1],x2:b[0],y2:b[1]+4.4},style:{stroke:stem,lineWidth:1.2,opacity:0.85}},
    {type:'circle',shape:{cx:b[0],cy:b[1],r:4.4},style:{fill:'none',stroke:stem,lineWidth:1.35}}
   ]};
 }});
series.push({type:'line',xAxisIndex:1,yAxisIndex:1,data:cumulativeCount,symbol:'none',silent:true,z:5,lineStyle:{color:darkBlue,width:3.4,join:'round'},animation:false});

const grayLabel={color:'#555',fontFamily:sans,fontSize:13};
const option={
 animation:false,backgroundColor:'#fff',
 grid:[
  {left:55,top:8,width:534,height:628.5,show:true,borderColor:'#444',borderWidth:1.5,backgroundColor:'#fff'},
  {left:721,top:96,width:355,height:449,show:true,borderColor:'#222',borderWidth:1.5,backgroundColor:'rgba(0,0,0,0)'}
 ],
 xAxis:[
  {type:'value',gridIndex:0,position:'bottom',min:36.602,max:37.6955,splitLine:{show:false},axisLine:{lineStyle:{color:'#444',width:1.5}},
   axisTick:{customValues:lonTicks,length:7,lineStyle:{color:'#444',width:1.2}},
   axisLabel:Object.assign({customValues:lonLabels,margin:17,formatter:v=>v.toFixed(1)+'°'},grayLabel)},
  {type:'value',gridIndex:1,position:'bottom',min:2020,max:2023.087,splitLine:{show:false},axisLine:{lineStyle:{color:'#222',width:1.5}},
   axisTick:{customValues:yearTicks,length:9,lineStyle:{color:'#222',width:1.2}},
   axisLabel:{customValues:yearLabels,margin:18,color:ink,fontFamily:sans,fontSize:15,formatter:v=>String(v)}},
  {type:'value',gridIndex:0,position:'bottom',min:36.602,max:37.6955,splitLine:{show:false},axisLine:{show:false},
   axisTick:{customValues:lonLabels,length:11,lineStyle:{color:'#444',width:1.2}},axisLabel:{show:false}}
 ],
 yAxis:[
  {type:'value',gridIndex:0,position:'left',min:36.825,max:37.8485,splitLine:{show:false},axisLine:{lineStyle:{color:'#444',width:1.5}},
   axisTick:{customValues:latTicks,length:7,lineStyle:{color:'#444',width:1.2}},
   axisLabel:Object.assign({customValues:latLabels,margin:16,formatter:v=>v.toFixed(1)+'°'},grayLabel)},
  {type:'value',gridIndex:1,position:'left',min:0,max:866.8,splitLine:{show:false},axisLine:{lineStyle:{color:'#222',width:1.5}},
   axisTick:{customValues:countTicks,length:9,lineStyle:{color:'#222',width:1.2}},
   axisLabel:{customValues:countTicks,margin:15.5,color:darkBlue,fontFamily:sans,fontSize:15,formatter:v=>String(v)}},
  {type:'value',gridIndex:1,position:'right',min:0,max:14.967,splitLine:{show:false},axisLine:{show:true,lineStyle:{color:'#222',width:1.5}},
   axisTick:{customValues:magTicks,length:9,lineStyle:{color:'#555',width:1.2}},
   axisLabel:{customValues:magTicks,margin:17,color:green,fontFamily:sans,fontSize:15,formatter:v=>String(v)}},
  {type:'value',gridIndex:0,position:'left',min:36.825,max:37.8485,splitLine:{show:false},axisLine:{show:false},
   axisTick:{customValues:latLabels,length:11,lineStyle:{color:'#444',width:1.2}},axisLabel:{show:false}}
 ],
 series:series,
 graphic:[
  {type:'text',x:506,y:128,rotation:37*Math.PI/180,z:20,style:{text:'2023 surface rupture',fill:orange,font:'bold 18px '+sans,textAlign:'center',textVerticalAlign:'middle'}},
  {type:'text',x:275,y:477,z:20,style:{text:'R=25 km',fill:ink,font:'14px '+sans,textAlign:'center',textVerticalAlign:'middle'}},
  {type:'text',x:231,y:361,z:20,style:{text:'2023/02/06',fill:'#222',font:'bold 11px '+sans,textAlign:'center',textVerticalAlign:'middle'}},
  {type:'text',x:231,y:374.5,z:20,style:{text:'M7.7 (AFAD)',fill:'#222',font:'bold 11px '+sans,textAlign:'center',textVerticalAlign:'middle'}},
  {type:'line',z:20,shape:{x1:411,y1:352,x2:606,y2:352},style:{stroke:'#222',lineWidth:1.4}},
  {type:'polygon',z:20,shape:{points:[[614,352],[603,347.5],[603,356.5]]},style:{fill:'#222'}},
  {type:'polygon',z:20,shape:{points:[[1071,69.5],[1082.3,69.5],[1076.7,89.5]]},style:{fill:'#1a1a1a'}},
  {type:'text',x:1060.5,y:33,z:20,style:{text:'M7.7 AFAD',fill:'#222',font:'14.6px '+sans,textAlign:'center',textVerticalAlign:'middle'}},
  {type:'text',x:1060.5,y:51.5,z:20,style:{text:'(M7.8 USGS)',fill:'#222',font:'14.6px '+sans,textAlign:'center',textVerticalAlign:'middle'}},
  {type:'text',x:1100,y:277.5,z:20,style:{text:'M',fill:green,font:'15px '+sans,textAlign:'center',textVerticalAlign:'middle'}},
  {type:'text',x:650.5,y:336,rotation:Math.PI/2,z:20,style:{text:'Cumulative Number of earthqukes',fill:darkBlue,font:'15.9px '+sans,textAlign:'center',textVerticalAlign:'middle'}},
  {type:'text',x:904.5,y:598,z:20,style:{text:'Time in years',fill:ink,font:'16px '+sans,textAlign:'center',textVerticalAlign:'middle'}}
 ]
};
echarts.init(document.getElementById('c'),null,{renderer:'canvas'}).setOption(option);
</script></body></html>
